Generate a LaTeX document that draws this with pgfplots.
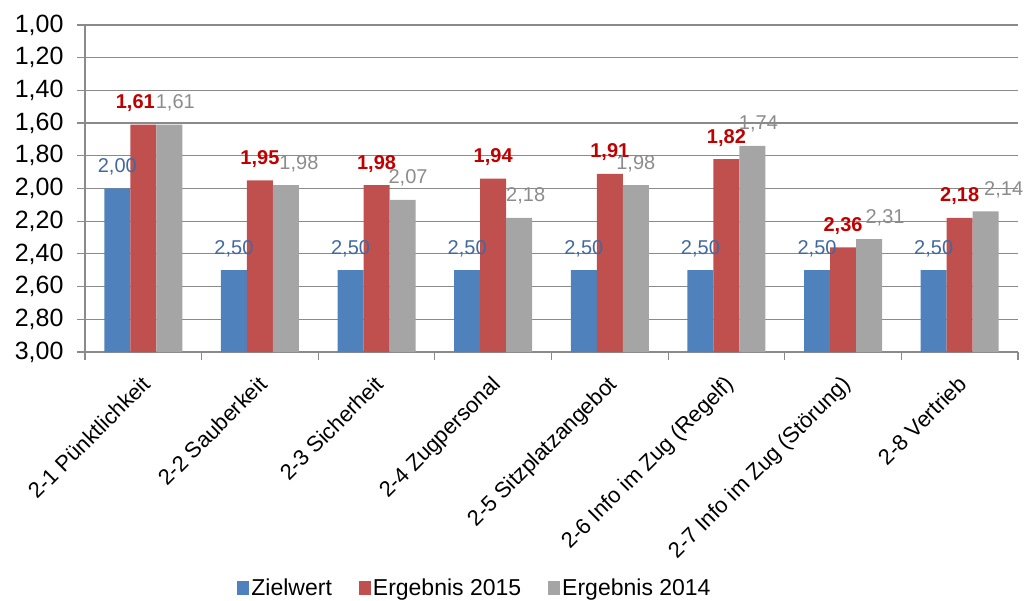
\documentclass[border=0pt]{standalone}
\usepackage{pgfplots}
\usepackage{pgfplotstable}
\pgfplotsset{compat=1.18}
\usepackage{fontspec}
\setmainfont{Liberation Sans}
\definecolor{cz}{HTML}{4F81BD}
\definecolor{ce}{HTML}{C0504D}
\definecolor{cv}{HTML}{A5A5A5}
\definecolor{lz}{HTML}{41699F}
\definecolor{le}{HTML}{C00000}
\definecolor{lv}{HTML}{8C8C8C}
\definecolor{gridgray}{HTML}{8A8A8A}
\pgfplotstableread{
x z e v lz le lv dz de dv
0 2.00 1.61 1.61 2,00 1,61 1,61 -26 -8 32
1 2.50 1.95 1.98 2,50 1,95 1,98 -26 0 39
2 2.50 1.98 2.07 2,50 1,98 2,07 -26 0 31.5
3 2.50 1.94 2.18 2,50 1,94 2,18 -26 0 32.5
4 2.50 1.91 1.98 2,50 1,91 1,98 -26 0 26
5 2.50 1.82 1.74 2,50 1,82 1,74 -26 0 32
6 2.50 2.36 2.31 2,50 2,36 2,31 -26 0 42
7 2.50 2.18 2.14 2,50 2,18 2,14 -26 0 44
}\data
\begin{document}
\begin{tikzpicture}
\useasboundingbox (-85pt,-249pt) rectangle (942pt,352pt);
\begin{axis}[
  scale only axis, width=933pt, height=327pt,
  y coord trafo/.code={\pgfmathparse{3-#1}},
  ymin=3, ymax=1,
  xmin=-0.5, xmax=7.5,
  ytick={1,1.2,1.4,1.6,1.8,2,2.2,2.4,2.6,2.8,3},
  yticklabels={{1,00},{1,20},{1,40},{1,60},{1,80},{2,00},{2,20},{2,40},{2,60},{2,80},{3,00}},
  xtick={0,1,2,3,4,5,6,7},
  xticklabels={2-1 Pünktlichkeit,2-2 Sauberkeit,2-3 Sicherheit,2-4 Zugpersonal,2-5 Sitzplatzangebot,2-6 Info im Zug (Regelf),2-7 Info im Zug (Störung),2-8 Vertrieb},
  xtick style={draw=none},
  extra x ticks={-0.5,0.5,1.5,2.5,3.5,4.5,5.5,6.5,7.5},
  extra x tick labels={},
  extra x tick style={xtick style={draw=gridgray, line width=1.2pt}},
  axis x line*=bottom, axis y line*=left,
  axis line style={gridgray, line width=1.2pt},
  ytick style={gridgray, line width=1.2pt},
  tick align=outside, major tick length=8pt,
  ymajorgrids, major grid style={gridgray, line width=1.2pt},
  yticklabel style={font=\fontsize{25}{25}\selectfont, xshift=-10pt},
  xticklabel style={font=\fontsize{22}{22}\selectfont, rotate=45, anchor=north east, inner sep=1pt, xshift=-11pt, yshift=-7pt},
  legend style={at={(axis description cs:0.418,-0.722)}, anchor=center, draw=none, fill=none,
    legend columns=-1, font=\fontsize{23}{23}\selectfont,
    nodes={inner sep=2pt},
    /tikz/every even column/.append style={column sep=25pt}},
  clip=false,
]
\addplot[ybar, bar width=26pt, bar shift=-26pt, fill=cz, draw=none,
  legend image code/.code={\fill[cz] (0pt,-7pt) rectangle (12pt,7pt);},
  visualization depends on={\thisrow{dz} \as \myshift},
  point meta=explicit symbolic, nodes near coords,
  every node near coord/.append style={font=\fontsize{20}{20}\selectfont, text=lz, anchor=base, yshift=16pt, xshift=\myshift pt}]
  table[x=x, y=z, meta=lz] {\data};
\addplot[ybar, bar width=26pt, bar shift=0pt, fill=ce, draw=none,
  legend image code/.code={\fill[ce] (0pt,-7pt) rectangle (12pt,7pt);},
  visualization depends on={\thisrow{de} \as \myshift},
  point meta=explicit symbolic, nodes near coords,
  every node near coord/.append style={font=\bfseries\fontsize{20}{20}\selectfont, text=le, anchor=base, yshift=16pt, xshift=\myshift pt}]
  table[x=x, y=e, meta=le] {\data};
\addplot[ybar, bar width=26pt, bar shift=26pt, fill=cv, draw=none,
  legend image code/.code={\fill[cv] (0pt,-7pt) rectangle (12pt,7pt);},
  visualization depends on={\thisrow{dv} \as \myshift},
  point meta=explicit symbolic, nodes near coords,
  every node near coord/.append style={font=\fontsize{20}{20}\selectfont, text=lv, anchor=base, yshift=16pt, xshift=\myshift pt}]
  table[x=x, y=v, meta=lv] {\data};
\legend{Zielwert, Ergebnis 2015, Ergebnis 2014}
\end{axis}
\end{tikzpicture}
\end{document}
